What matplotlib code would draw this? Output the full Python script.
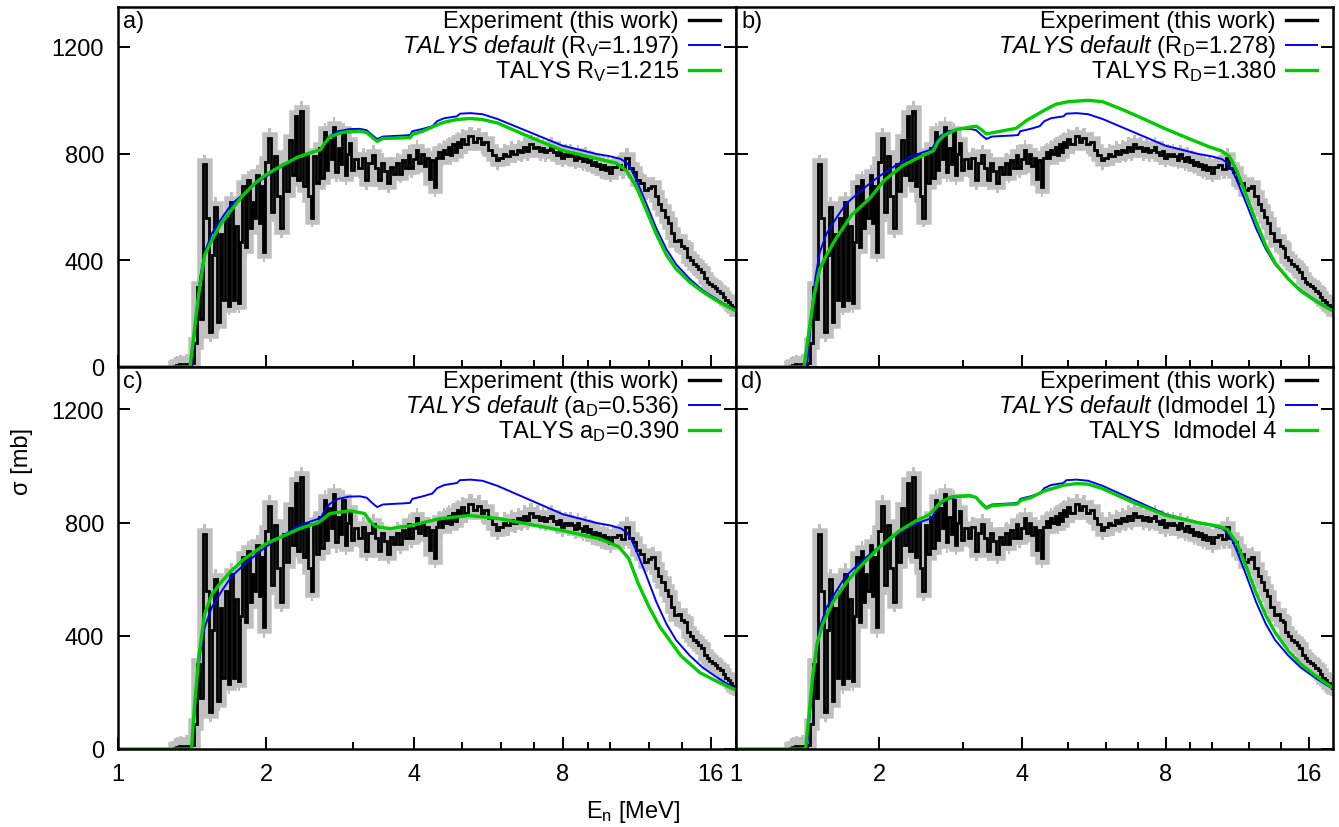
import matplotlib
matplotlib.use("Agg")
import matplotlib.pyplot as plt
from matplotlib.ticker import FixedLocator, NullLocator, NullFormatter

plt.rcParams['font.family'] = ['Liberation Sans', 'DejaVu Sans']
plt.rcParams['mathtext.fontset'] = 'custom'
plt.rcParams['mathtext.rm'] = 'Liberation Sans'
plt.rcParams['mathtext.it'] = 'Liberation Sans:italic'
plt.rcParams['mathtext.bf'] = 'Liberation Sans:bold'

# ---------------- experimental data (same in all panels) ----------------
exp_E = [1.30, 1.32, 1.34, 1.36, 1.38, 1.40, 1.42, 1.44,
         1.46, 1.48, 1.50, 1.52, 1.54, 1.56, 1.58, 1.60, 1.62, 1.64,
         1.66, 1.68, 1.70, 1.72, 1.74, 1.76, 1.78, 1.80, 1.82, 1.84,
         1.86, 1.88, 1.90, 1.92, 1.94, 1.96, 1.98, 2.00,
         2.03, 2.06, 2.09, 2.12, 2.15, 2.18, 2.21, 2.24, 2.27, 2.30,
         2.33, 2.36, 2.39, 2.42, 2.45, 2.48, 2.51, 2.54, 2.57, 2.60,
         2.63, 2.66, 2.69, 2.72, 2.75, 2.78, 2.81, 2.84, 2.87, 2.90,
         2.93, 2.96, 2.99,
         3.05, 3.10, 3.15, 3.20, 3.25, 3.30, 3.35, 3.40, 3.45, 3.50,
         3.55, 3.60, 3.65, 3.70, 3.75, 3.80, 3.85, 3.90, 3.95, 4.00,
         4.05, 4.10, 4.15, 4.20, 4.25, 4.30, 4.35, 4.40, 4.45, 4.50,
         4.55, 4.60, 4.65, 4.70, 4.75, 4.80, 4.85, 4.90, 4.95, 5.00,
         5.1, 5.2, 5.3, 5.4, 5.5, 5.6, 5.7, 5.8, 5.9, 6.0,
         6.1, 6.2, 6.3, 6.4, 6.5, 6.6, 6.7, 6.8, 6.9, 7.0,
         7.1, 7.2, 7.3, 7.4, 7.5, 7.6, 7.7, 7.8, 7.9, 8.0,
         8.1, 8.2, 8.3, 8.4, 8.5, 8.6, 8.7, 8.8, 8.9, 9.0,
         9.1, 9.2, 9.3, 9.4, 9.5, 9.6, 9.7, 9.8, 9.9, 10.0,
         10.2, 10.4, 10.6, 10.8, 11.0, 11.2, 11.4, 11.6, 11.8, 12.0,
         12.2, 12.4, 12.6, 12.8, 13.0, 13.2, 13.4, 13.6, 13.8, 14.0,
         14.2, 14.4, 14.6, 14.8, 15.0, 15.2, 15.4, 15.6, 15.8, 16.0,
         16.2, 16.4, 16.6, 16.8, 17.0, 17.2, 17.4, 17.6, 17.8, 18.0]
exp_sigma = [3, 6, 10, 5, 12, 8, 15, 90,
             300, 180, 760, 560, 130, 420, 600, 170, 500, 250,
             560, 230, 620, 250, 530, 240, 470, 680, 450, 700,
             520, 620, 560, 720, 540, 680, 430, 770,
             860, 580, 790, 640, 520, 760, 660, 850, 720, 940,
             700, 960, 680, 800, 640, 560, 790, 690, 820, 710,
             880, 740, 850, 780, 900, 730, 820, 760, 880, 720,
             800, 840, 740,
             780, 745, 785, 700, 765, 795, 745, 700, 765, 735,
             690, 750, 725, 765, 725, 775, 745, 795, 745, 780,
             815, 765, 800, 755, 785, 705, 775, 675, 785, 805,
             785, 815, 800, 825, 795, 835, 805, 845, 825, 855,
             835, 865, 845, 860, 835, 845, 815, 795, 775, 785,
             800, 790, 810, 800, 815, 805, 825, 810, 835, 820,
             825, 810, 820, 805, 815, 825, 805, 795, 810, 785,
             800, 790, 800, 790, 778, 798, 782, 772, 788, 768,
             778, 758, 768, 752, 762, 742, 758, 738, 750, 728,
             750, 758, 742, 785, 745, 730, 702, 690, 662, 670,
             678, 640, 612, 590, 562, 540, 502, 472, 478, 455,
             448, 412, 400, 386, 378, 368, 358, 332, 320, 310,
             304, 298, 286, 278, 264, 252, 244, 232, 224, 215]
exp_unc = 36  # mb, half-width of the grey uncertainty band

# ---------------- TALYS default (blue, same in all panels) ----------------
def_E = [1.00, 1.41, 1.43, 1.45, 1.47, 1.50, 1.55, 1.62, 1.70, 1.80,
         1.91, 2.00, 2.15, 2.31, 2.45, 2.58, 2.62, 2.69, 2.80, 2.95,
         3.10, 3.20, 3.28, 3.36, 3.45, 3.60, 3.80, 3.92, 3.96, 4.16,
         4.35, 4.45, 4.60, 4.88, 4.95, 5.20, 5.50, 5.90, 6.87, 8.00,
         9.37, 10.0, 10.5, 10.8, 11.0, 11.3, 11.85, 12.4, 13.0, 13.6,
         14.5, 15.4, 16.4, 17.0, 18.0]
def_sigma = [0, 0, 120, 250, 340, 430, 500, 555, 610, 650,
             688, 715, 752, 785, 803, 816, 838, 866, 884, 892,
             893, 888, 870, 855, 864, 866, 868, 870, 884, 893,
             903, 922, 933, 940, 950, 952, 948, 930, 880, 830,
             799, 790, 780, 765, 745, 700, 610, 520, 442, 385,
             330, 288, 255, 238, 212]

# ---------------- panel a: R_V = 1.215 ----------------
ga_E = [1.00, 1.40, 1.42, 1.44, 1.46, 1.50, 1.55, 1.61, 1.70, 1.79,
        1.90, 2.00, 2.15, 2.31, 2.45, 2.58, 2.62, 2.69, 2.86, 3.10,
        3.20, 3.28, 3.36, 3.45, 3.92, 3.96, 4.16, 4.45, 4.60, 4.88,
        5.19, 5.50, 5.90, 6.87, 8.00, 9.37, 10.3, 10.8, 11.3, 11.85,
        12.4, 13.0, 13.6, 14.5, 15.4, 16.4, 17.0, 18.0]
ga_sigma = [0, 0, 90, 190, 280, 420, 475, 530, 590, 642,
            690, 722, 755, 786, 802, 815, 835, 863, 880, 884,
            879, 862, 846, 857, 860, 872, 884, 908, 918, 928,
            932, 928, 915, 862, 812, 782, 764, 735, 675, 585,
            498, 420, 368, 318, 282, 250, 234, 210]

# ---------------- panel b: R_D = 1.380 ----------------
gb_E = [1.00, 1.39, 1.42, 1.46, 1.50, 1.55, 1.62, 1.75, 1.91, 2.05,
        2.24, 2.45, 2.60, 2.66, 2.73, 2.90, 3.09, 3.20, 3.28, 3.36,
        3.50, 3.88, 4.08, 4.43, 4.70, 5.00, 5.50, 5.90, 6.50, 7.00,
        8.00, 9.00, 9.90, 10.5, 10.9, 11.3, 11.85, 12.4, 13.0, 13.6,
        14.5, 15.4, 16.4, 17.0, 18.0]
gb_sigma = [0, 0, 120, 270, 367, 420, 480, 570, 632, 700,
            755, 790, 811, 845, 867, 890, 899, 903, 890, 874,
            880, 895, 924, 961, 985, 995, 1000, 995, 965, 940,
            893, 855, 825, 810, 790, 735, 640, 545, 455, 390,
            330, 285, 252, 235, 210]

# ---------------- panel c: a_D = 0.390 ----------------
gc_E = [1.00, 1.41, 1.43, 1.46, 1.50, 1.55, 1.61, 1.70, 1.80, 2.00,
        2.34, 2.55, 2.62, 2.69, 2.96, 3.17, 3.25, 3.33, 3.57, 3.92,
        4.50, 5.18, 5.95, 8.00, 9.50, 10.4, 10.9, 11.4, 12.0, 12.6,
        13.0, 13.9, 15.2, 16.5, 18.0]
gc_sigma = [0, 0, 150, 330, 478, 545, 584, 630, 670, 726,
            779, 800, 815, 832, 842, 832, 805, 786, 779, 789,
            814, 825, 814, 772, 743, 715, 673, 584, 500, 432,
            400, 330, 270, 238, 208]

# ---------------- panel d: ldmodel 4 ----------------
gd_E = [1.00, 1.40, 1.42, 1.45, 1.48, 1.52, 1.60, 1.70, 1.80, 2.00,
        2.20, 2.40, 2.55, 2.62, 2.70, 2.85, 3.10, 3.20, 3.28, 3.36,
        3.45, 3.90, 3.96, 4.16, 4.45, 4.88, 5.20, 5.50, 5.90, 6.87,
        8.00, 9.37, 10.3, 10.8, 11.3, 11.85, 12.4, 13.0, 13.6, 14.5,
        15.4, 16.4, 17.0, 18.0]
gd_sigma = [0, 0, 100, 260, 370, 440, 520, 585, 635, 712,
            770, 808, 828, 850, 874, 892, 896, 889, 867, 851,
            860, 866, 878, 888, 912, 932, 938, 936, 920, 870,
            826, 800, 788, 776, 728, 640, 552, 472, 412, 347,
            300, 264, 244, 216]

panel_tags = ['a)', 'b)', 'c)', 'd)']
legend_default = [r'$\mathit{TALYS\ default}$ (R$_{\mathrm{V}}$=1.197)',
                  r'$\mathit{TALYS\ default}$ (R$_{\mathrm{D}}$=1.278)',
                  r'$\mathit{TALYS\ default}$ (a$_{\mathrm{D}}$=0.536)',
                  r'$\mathit{TALYS\ default}$ (ldmodel 1)']
legend_alt = [r'TALYS R$_{\mathrm{V}}$=1.215',
              r'TALYS R$_{\mathrm{D}}$=1.380',
              r'TALYS a$_{\mathrm{D}}$=0.390',
              'TALYS  ldmodel 4']
alt_E = [ga_E, gb_E, gc_E, gd_E]
alt_sigma = [ga_sigma, gb_sigma, gc_sigma, gd_sigma]

xticks = [1, 2, 4, 8, 16]
xtick_labels = ['1', '2', '4', '8', '16']
xminor = [3, 5, 6, 7, 9, 10, 12, 14]
yticks = [0, 400, 800, 1200]

# ---------------- figure ----------------
W, H = 1339, 828
fig = plt.figure(figsize=(W / 100, H / 100), dpi=100)
FS = 17

# pixel boxes: left, top, right, bottom
boxes = [(118, 8, 736, 368), (736, 8, 1333, 368),
         (118, 368, 736, 750), (736, 368, 1333, 750)]

GREY = '#c0c0c0'
BLUE = '#0000ff'
GREEN = '#00cc00'

for i, (l, t, r, b) in enumerate(boxes):
    wpx, hpx = r - l, b - t
    ax = fig.add_axes([l / W, 1 - b / H, wpx / W, hpx / H])
    # experiment: grey uncertainty band + black histogram
    ax.fill_between(exp_E, [s - exp_unc for s in exp_sigma],
                    [s + exp_unc for s in exp_sigma], step='mid',
                    color=GREY, lw=0, zorder=1)
    ax.plot(exp_E, exp_sigma, drawstyle='steps-mid', color=GREY, lw=9,
            solid_joinstyle='miter', zorder=1.5)
    ax.plot(exp_E, exp_sigma, drawstyle='steps-mid', color='black', lw=2.0,
            solid_joinstyle='miter', zorder=2)
    # models
    ax.plot(def_E, def_sigma, color=BLUE, lw=1.4, zorder=3)
    ax.plot(alt_E[i], alt_sigma[i], color=GREEN, lw=2.4, zorder=4)

    ax.set_xscale('log')
    ax.set_xlim(1, 18)
    ax.set_ylim(0, 1350)
    ax.xaxis.set_major_locator(FixedLocator(xticks))
    ax.set_xticklabels(xtick_labels)
    ax.xaxis.set_minor_locator(FixedLocator(xminor))
    ax.xaxis.set_minor_formatter(NullFormatter())
    ax.yaxis.set_major_locator(FixedLocator(yticks))
    ax.yaxis.set_minor_locator(NullLocator())
    ax.tick_params(which='both', direction='in', top=False, right=True,
                   width=1.4, labelsize=FS)
    ax.tick_params(which='major', length=8.5)
    ax.tick_params(which='minor', length=5)
    ax.tick_params(axis='x', pad=10)
    ax.tick_params(axis='y', pad=10)
    if i < 2:
        ax.tick_params(axis='x', labelbottom=False)
    if i % 2 == 1:
        ax.tick_params(axis='y', labelleft=False)
    for sp in ax.spines.values():
        sp.set_linewidth(1.8)
        sp.set_zorder(6)

    # panel tag
    ax.text(5 / wpx, 1 - 20 / hpx, panel_tags[i], transform=ax.transAxes,
            ha='left', va='baseline', fontsize=FS)
    # gnuplot-style key
    labels = ['Experiment (this work)', legend_default[i], legend_alt[i]]
    colors = ['black', BLUE, GREEN]
    lws = [2.4, 1.4, 2.4]
    for k in range(3):
        yb = 1 - (20 + 25 * k) / hpx
        yl = 1 - (13 + 25 * k) / hpx
        ax.text(1 - 57 / wpx, yb, labels[k], transform=ax.transAxes,
                ha='right', va='baseline', fontsize=FS)
        ax.plot([1 - 47 / wpx, 1 - 16 / wpx], [yl, yl], transform=ax.transAxes,
                color=colors[k], lw=lws[k], clip_on=False, zorder=5)

fig.text(22 / W, 1 - 462 / H, 'σ [mb]', rotation=90, ha='center', va='center',
         fontsize=FS)
fig.text(633 / W, 1 - 812 / H, r'E$_{\mathrm{n}}$ [MeV]', ha='center',
         va='center', fontsize=FS)

fig.savefig('out.png', dpi=100)
